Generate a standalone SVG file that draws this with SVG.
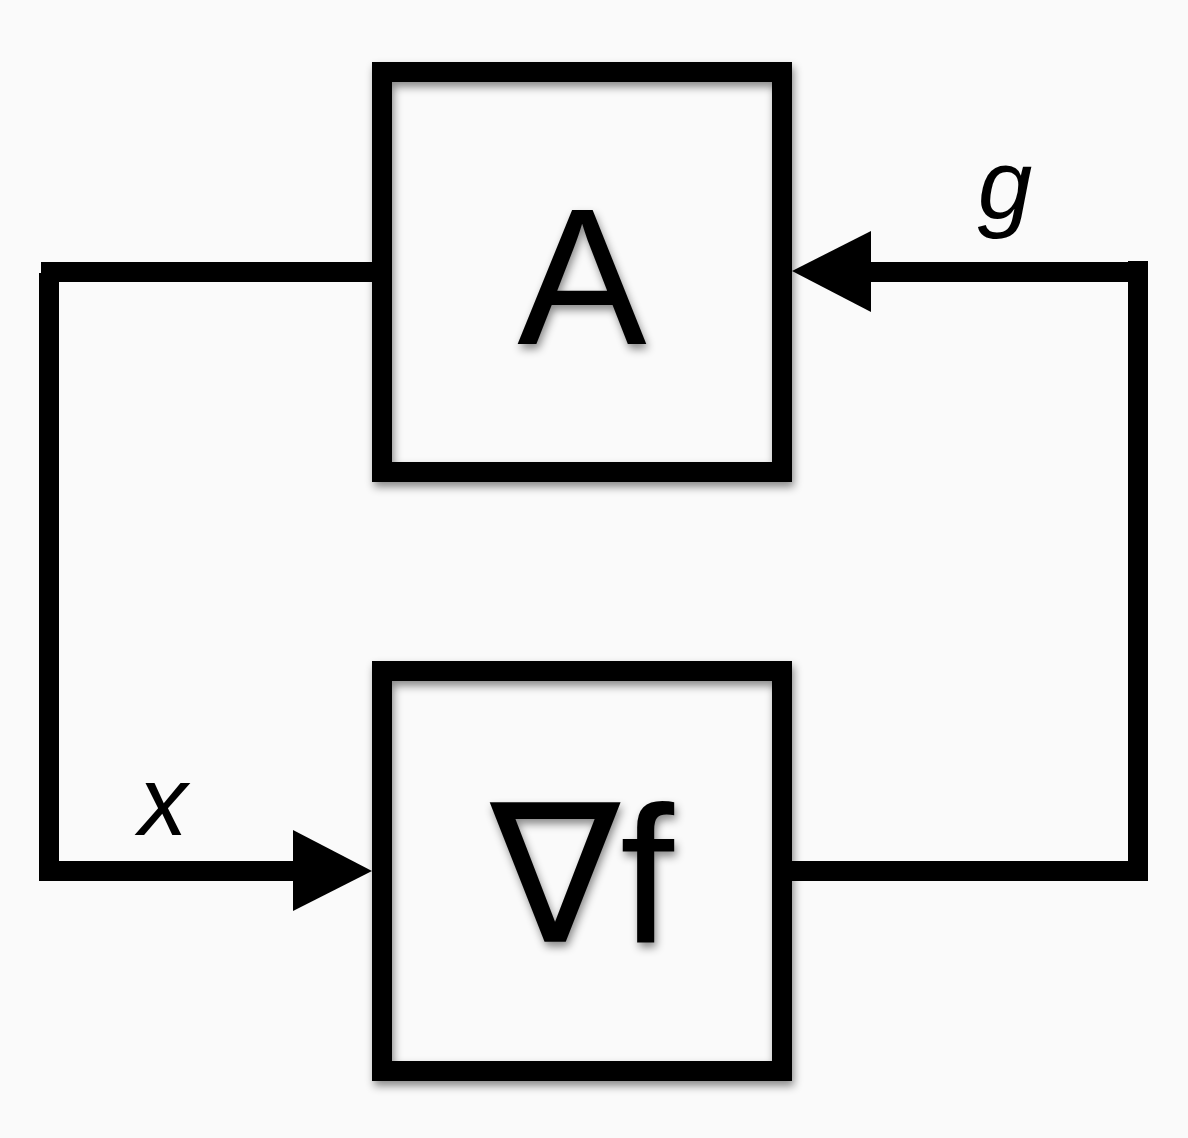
<svg xmlns="http://www.w3.org/2000/svg" width="1188" height="1138" viewBox="0 0 1188 1138">
  <defs>
    <filter id="shadow" x="-20%" y="-20%" width="140%" height="140%">
      <feDropShadow dx="2" dy="5" stdDeviation="4" flood-color="#000" flood-opacity="0.45"/>
    </filter>
    <style>
      .box { fill: none; stroke: #000; stroke-width: 20; filter: url(#shadow); }
      .big { font-family: "Liberation Sans", "DejaVu Sans", sans-serif; font-size: 194px; fill: #000; text-anchor: middle; filter: url(#shadow); }
      .lbl { font-family: "Liberation Sans", Arial, sans-serif; font-style: italic; font-size: 98px; fill: #000; text-anchor: middle; }
      .wire { fill: none; stroke: #000; stroke-width: 20; stroke-linecap: butt; }
      .head { fill: #000; }
    </style>
  </defs>
  <rect x="0" y="0" width="1188" height="1138" fill="#fafafa"/>
  <g id="connectors">
    <path class="wire" d="M372,272 H41"/>
    <path class="wire" d="M49,273 V881"/>
    <path class="wire" d="M39,871 H296"/>
    <polygon class="head" points="372,871 293,830 293,911"/>
    <path class="wire" d="M792,871 H1148"/>
    <path class="wire" d="M1138,261 V881"/>
    <path class="wire" d="M1128,272 H868"/>
    <polygon class="head" points="792,271 871,231 871,312"/>
  </g>
  <g id="node-A">
    <rect class="box" x="382" y="72" width="400" height="400"/>
    <text class="big" x="582" y="344">A</text>
  </g>
  <g id="node-gradf">
    <rect class="box" x="382" y="671" width="400" height="400"/>
    <text class="big" x="582" y="942">∇f</text>
  </g>
  <g id="label-g">
    <text class="lbl" x="1005" y="219">g</text>
  </g>
  <g id="label-x">
    <text class="lbl" x="163" y="835">x</text>
  </g>
</svg>
